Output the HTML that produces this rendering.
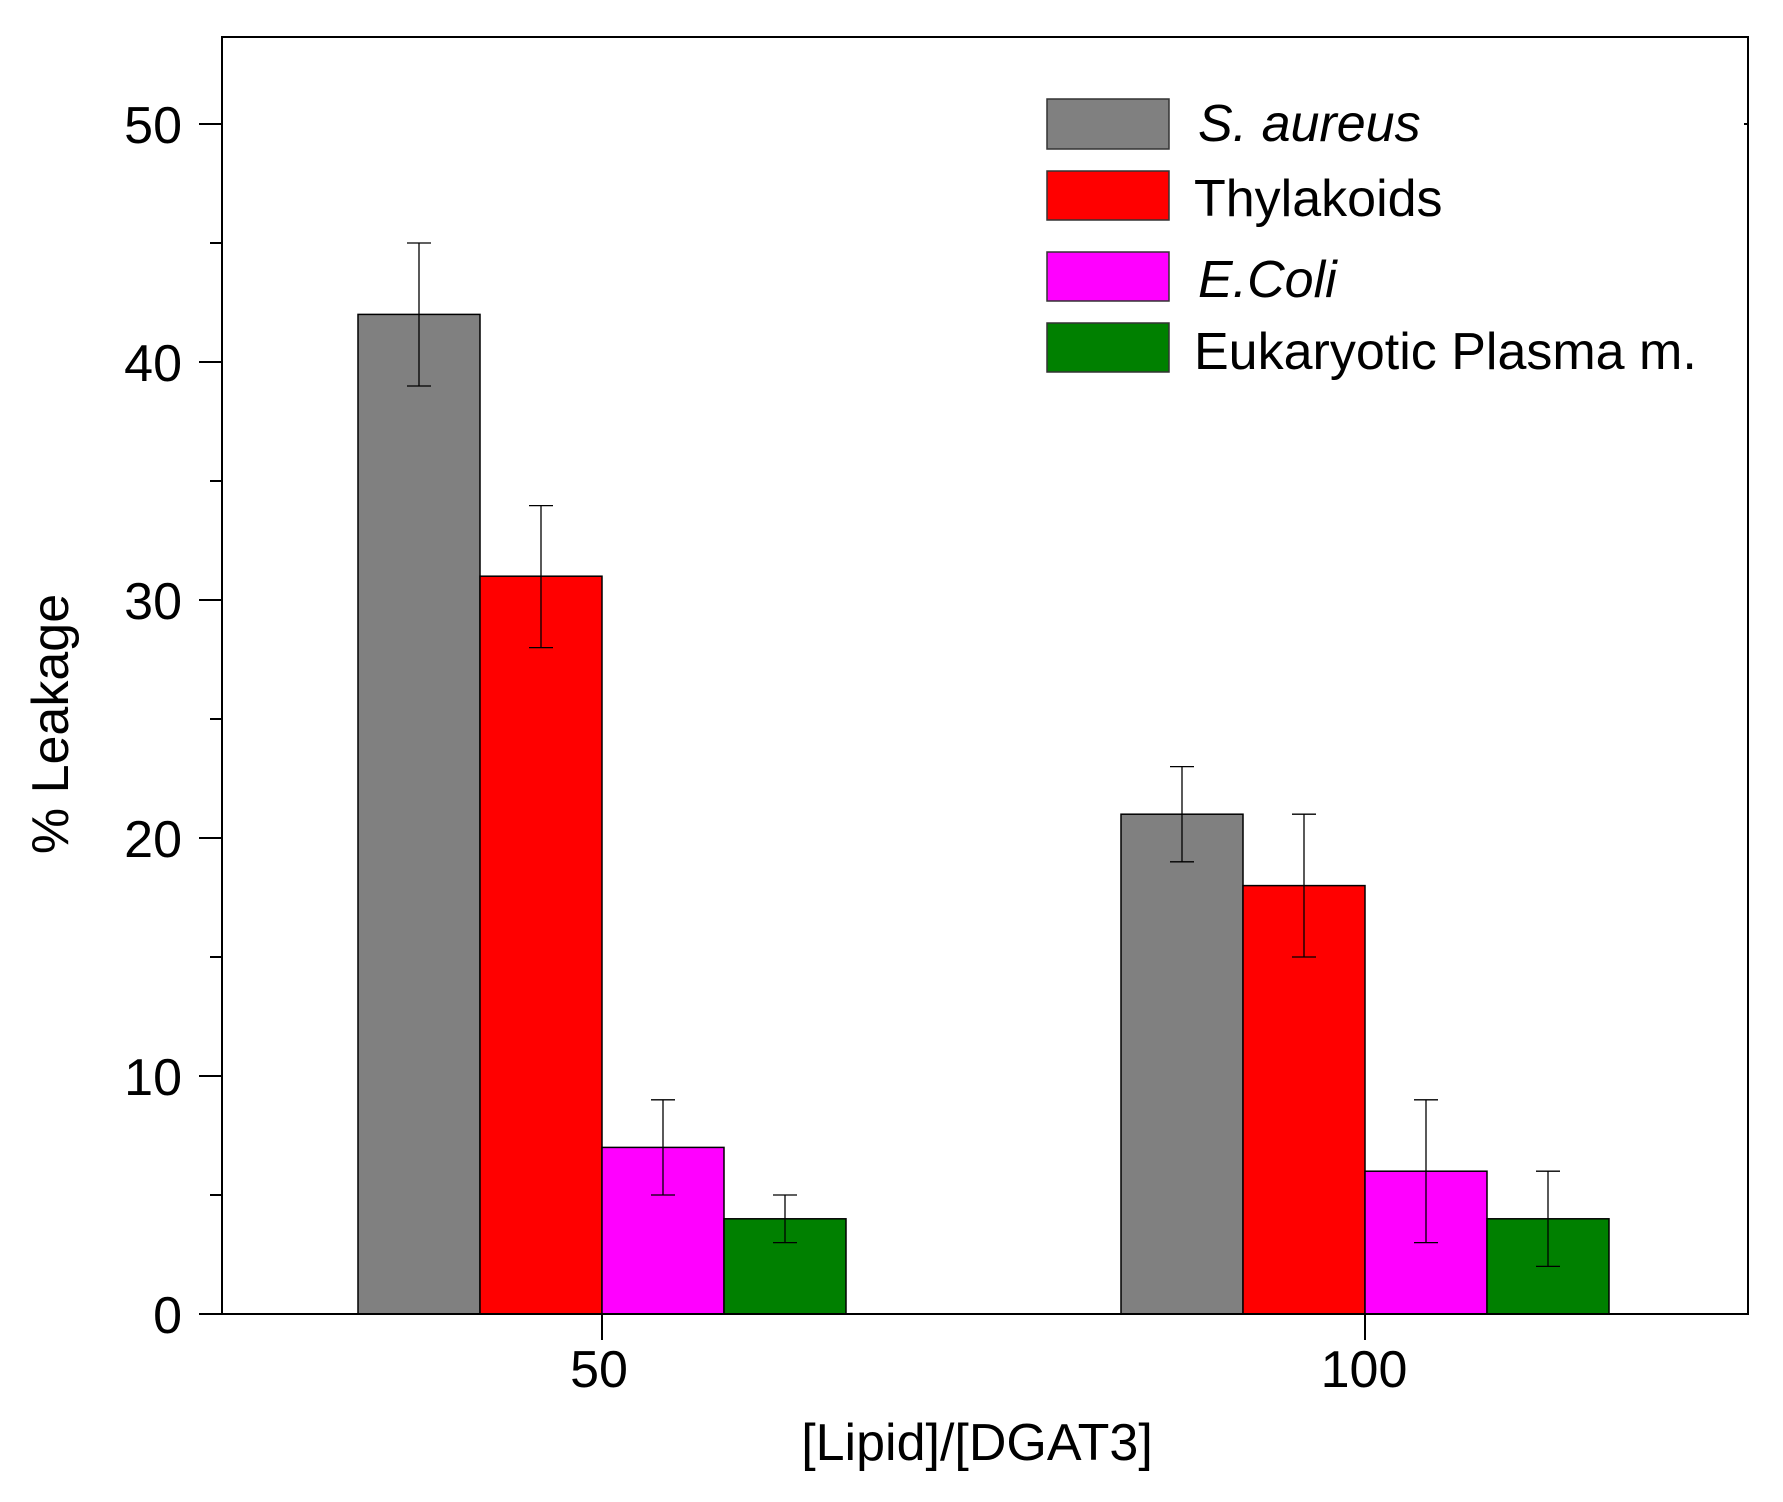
<!DOCTYPE html>
<html><head><meta charset="utf-8"><style>html,body{margin:0;padding:0;background:#fff}svg{display:block}</style></head>
<body>
<svg width="1783" height="1502" viewBox="0 0 1783 1502" xmlns="http://www.w3.org/2000/svg" font-family="Liberation Sans, Arial, sans-serif">
<rect width="1783" height="1502" fill="#fff"/>
<g stroke="#000" stroke-width="1.5">
<rect x="358" y="314.4" width="122" height="999.6" fill="#808080"/>
<rect x="480" y="576.2" width="122" height="737.8" fill="#ff0000"/>
<rect x="602" y="1147.4" width="122" height="166.6" fill="#ff00ff"/>
<rect x="724" y="1218.8" width="122" height="95.2" fill="#008000"/>
<rect x="1121" y="814.2" width="122" height="499.8" fill="#808080"/>
<rect x="1243" y="885.6" width="122" height="428.4" fill="#ff0000"/>
<rect x="1365" y="1171.2" width="122" height="142.8" fill="#ff00ff"/>
<rect x="1487" y="1218.8" width="122" height="95.2" fill="#008000"/>
</g>
<g stroke="#000" stroke-width="1.3" fill="none">
<path d="M419 243V386M407 243H431M407 386H431"/>
<path d="M541 505.6V647.6M529 505.6H553M529 647.6H553"/>
<path d="M663 1099.8V1195M651 1099.8H675M651 1195H675"/>
<path d="M785 1195V1242.6M773 1195H797M773 1242.6H797"/>
<path d="M1182 766.6V861.8M1170 766.6H1194M1170 861.8H1194"/>
<path d="M1304 814.2V957M1292 814.2H1316M1292 957H1316"/>
<path d="M1426 1099.8V1242.6M1414 1099.8H1438M1414 1242.6H1438"/>
<path d="M1548 1171.2V1266.4M1536 1171.2H1560M1536 1266.4H1560"/>
</g>
<rect x="222" y="37" width="1526" height="1277" fill="none" stroke="#000" stroke-width="2"/>
<g stroke="#000" stroke-width="2">
<path d="M199 1314H222M199 1076H222M199 838H222M199 600H222M199 362H222M199 124H222"/>
<path d="M210 1195H222M210 957H222M210 719H222M210 481H222M210 243H222"/>
<path d="M602 1314V1340M1365 1314V1340"/>
<path d="M1748 124H1744"/>
</g>
<g font-size="52" text-anchor="end" fill="#000">
<text x="182" y="1333">0</text>
<text x="182" y="1095">10</text>
<text x="182" y="857">20</text>
<text x="182" y="619">30</text>
<text x="182" y="381">40</text>
<text x="182" y="143">50</text>
</g>
<g font-size="52" text-anchor="middle" fill="#000">
<text x="599" y="1387">50</text>
<text x="1364" y="1387">100</text>
<text x="977" y="1460">[Lipid]/[DGAT3]</text>
<text transform="translate(68,724) rotate(-90)">% Leakage</text>
</g>
<g stroke="#333" stroke-width="1.5">
<rect x="1047" y="99" width="122" height="50" fill="#808080"/>
<rect x="1047" y="171" width="122" height="49" fill="#ff0000"/>
<rect x="1047" y="252" width="122" height="49" fill="#ff00ff"/>
<rect x="1047" y="323" width="122" height="49" fill="#008000"/>
</g>
<g font-size="52" fill="#000">
<text x="1198" y="141" font-style="italic">S. aureus</text>
<text x="1194" y="216">Thylakoids</text>
<text x="1198" y="297" font-style="italic">E.Coli</text>
<text x="1194" y="369">Eukaryotic Plasma m.</text>
</g>
</svg>
</body></html>
